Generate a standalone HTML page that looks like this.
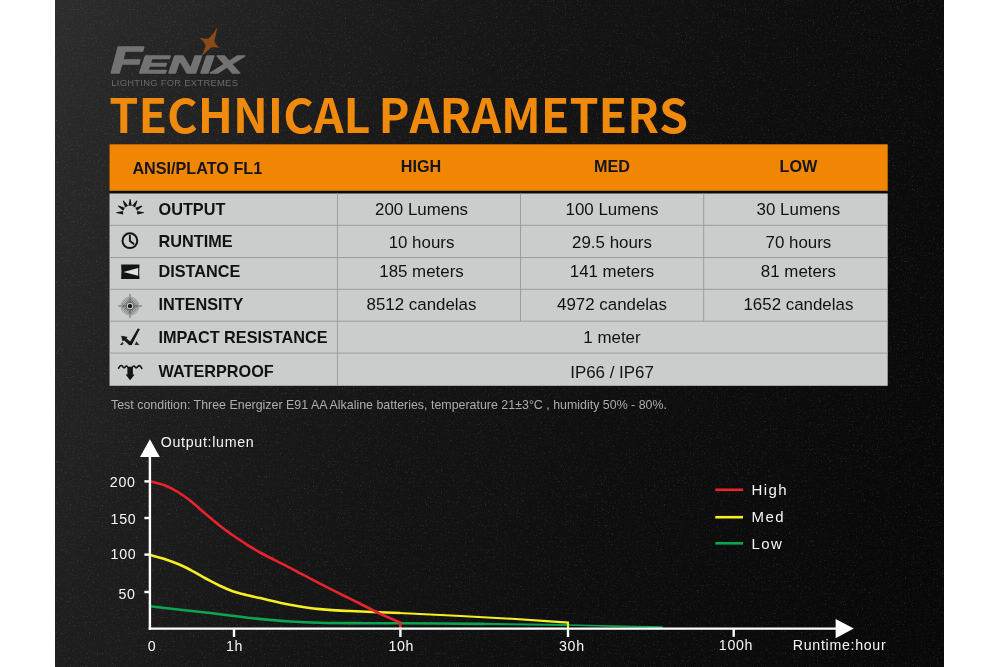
<!DOCTYPE html>
<html lang="en">
<head>
<meta charset="utf-8">
<title>Fenix Technical Parameters</title>
<style>
  html, body { margin: 0; padding: 0; background: #ffffff; }
  body { width: 1000px; height: 667px; overflow: hidden; position: relative; font-family: "Liberation Sans", sans-serif; }
  #stage { position: absolute; left: 0; top: 0; width: 1000px; height: 667px; display: block; will-change: transform; }
  .t { font-family: "Liberation Sans", sans-serif; }
  .b { font-weight: bold; }
  .title { font-family: "Noto Sans CJK SC", "Liberation Sans", sans-serif; font-weight: bold; font-kerning: none; }
</style>
</head>
<body>
<svg id="stage" width="1000" height="667" viewBox="0 0 1000 667">
  <defs>
    <linearGradient id="bg" gradientUnits="userSpaceOnUse" x1="55" y1="0" x2="1051.5" y2="398.6">
      <stop offset="0" stop-color="#2d2d2d"/>
      <stop offset="0.12" stop-color="#252525"/>
      <stop offset="0.23" stop-color="#1e1e1e"/>
      <stop offset="0.4" stop-color="#161616"/>
      <stop offset="0.6" stop-color="#101010"/>
      <stop offset="0.77" stop-color="#0c0c0c"/>
      <stop offset="1" stop-color="#080808"/>
    </linearGradient>
    <filter id="grain" x="0" y="0" width="100%" height="100%" color-interpolation-filters="sRGB">
      <feTurbulence type="fractalNoise" baseFrequency="0.75" numOctaves="2" seed="7" result="n"/>
      <feColorMatrix type="matrix" values="0 0 0 0 1  0 0 0 0 1  0 0 0 0 1  3.2 0 0 0 -1.9"/>
      <feGaussianBlur stdDeviation="0.4"/>
    </filter>
  </defs>

  <!-- background -->
  <rect x="0" y="0" width="1000" height="667" fill="#ffffff"/>
  <rect x="55" y="0" width="889" height="667" fill="url(#bg)"/>
  <rect x="55" y="0" width="889" height="667" filter="url(#grain)" opacity="0.15"/>

  <!-- LOGO -->
  <g id="logo">
    <text x="110.4" y="73.2" class="t b" font-size="37.4" font-style="italic" fill="#737373" stroke="#737373" stroke-width="1.3" stroke-linejoin="round" textLength="32" lengthAdjust="spacingAndGlyphs">F</text>
    <text x="139.2" y="73.2" class="t b" font-size="24.6" font-style="italic" fill="#737373" stroke="#737373" stroke-width="1.3" stroke-linejoin="round" textLength="103" lengthAdjust="spacingAndGlyphs">ENIX</text>
    <path d="M217.3 27.2 Q215.6 37 214.2 41.8 Q216.6 45.6 219.5 47.9 Q213.8 46.8 211.2 47.6 Q207 51.6 201.4 56.2 Q205 49 205.6 44.8 Q203 40.6 199.2 37.8 Q205 39.2 208.8 38.4 Q213.5 34 217.3 27.2 Z" fill="#8a4915"/>
    <text x="111.3" y="85.8" class="t" font-size="9.4" fill="#6a6a6a" textLength="126.6" lengthAdjust="spacing">LIGHTING FOR EXTREMES</text>
  </g>

  <!-- TITLE -->
  <text id="title" y="133" class="title" font-size="46.6" fill="#f08a0c"><tspan x="109.3" letter-spacing="0">TECHNICAL </tspan><tspan x="378.5" letter-spacing="0">PARAMETERS</tspan></text>

  <!-- TABLE -->
  <g id="table">
    <rect x="109.5" y="144.3" width="778.2" height="241.5" fill="#0c0c10"/>
    <rect x="109.5" y="144.3" width="778.2" height="46.5" fill="#f18605"/>
    <rect x="109.5" y="193.5" width="778.2" height="192.3" fill="#cbcdcc"/>
    <!-- grid lines -->
    <g stroke="#979797" stroke-width="0.9">
      <line x1="109.5" y1="225.3" x2="887.5" y2="225.3"/>
      <line x1="109.5" y1="257.5" x2="887.5" y2="257.5"/>
      <line x1="109.5" y1="289.3" x2="887.5" y2="289.3"/>
      <line x1="109.5" y1="321.2" x2="887.5" y2="321.2"/>
      <line x1="109.5" y1="353.1" x2="887.5" y2="353.1"/>
      <line x1="337.5" y1="193.2" x2="337.5" y2="385.5"/>
      <line x1="520.5" y1="193.2" x2="520.5" y2="321.2"/>
      <line x1="703.7" y1="193.2" x2="703.7" y2="321.2"/>
    </g>


    <!-- icons -->
    <g id="icons" fill="#141414" stroke="none">
      <!-- output: burst -->
      <g>
        <polygon points="116.3,212.2 116.3,213.1 123.1,214.4 123.1,211.0"/>
        <polygon points="118.4,205.4 117.9,206.2 123.2,210.7 124.9,207.7"/>
        <polygon points="123.6,200.5 122.8,201.0 125.1,207.5 128.1,205.8"/>
        <polygon points="130.5,198.9 129.7,198.9 128.4,205.7 131.8,205.7"/>
        <polygon points="137.4,201.0 136.6,200.5 132.1,205.8 135.1,207.5"/>
        <polygon points="142.3,206.2 141.8,205.4 135.3,207.7 137.0,210.7"/>
        <polygon points="143.9,213.1 143.9,212.2 137.1,211.0 137.1,214.4"/>
      </g>
      <!-- runtime: clock -->
      <circle cx="129.9" cy="240.7" r="7.4" fill="none" stroke="#141414" stroke-width="2"/>
      <path d="M129.9 235.6 V240.9 L133.6 243.8" fill="none" stroke="#141414" stroke-width="1.9" stroke-linecap="round" stroke-linejoin="round"/>
      <!-- distance: beam -->
      <path d="M121.1 264.4 H139.5 Q138.8 271.7 139.5 279 H121.1 Q121.8 271.7 121.1 264.4 Z"/>
      <polygon points="123.5,272 138.1,267.9 138.1,275.8" fill="#e2e2e2"/>
      <!-- intensity: target -->
      <g fill="none">
        <path d="M118.2 306.1 H126.6 M133.4 306.1 H141.9 M130 294.1 V302.7 M130 309.5 V317.9" stroke-width="1.5" stroke="#868686"/>
        <circle cx="130" cy="306.1" r="3.9" stroke="#4c4c4c" stroke-width="0.9"/>
        <circle cx="130" cy="306.1" r="5.2" stroke="#585858" stroke-width="0.9"/>
        <circle cx="130" cy="306.1" r="6.5" stroke="#676767" stroke-width="0.8"/>
        <circle cx="130" cy="306.1" r="7.8" stroke="#7a7a7a" stroke-width="0.8"/>
        <circle cx="130" cy="306.1" r="9.1" stroke="#929292" stroke-width="0.7"/>
      </g>
      <circle cx="130" cy="306.1" r="2.2"/>
      <!-- impact resistance -->
      <path d="M139.9 329 L131.8 345 L129.4 345.2 L124 340.2 L122.6 341.6 L121.2 335.8 L127.8 337 L126.2 338.2 L130.2 341.6 L137.8 328.6 Z"/>
      <path d="M119.8 344.9 L122.4 342 L123.6 343.4 L122.4 345 Z M134.6 344.9 L136.4 341.2 L137.6 342.8 L139.2 345 Z" fill="#2c2c2c"/>
      <!-- waterproof -->
      <path d="M118.6 368.2 C119.6 366 120.6 365.4 121.6 365.6 C122.8 365.8 123 367.8 124 367.8 C125 367.8 125.2 366 126.4 366 C127.4 366 127.6 367.4 128.4 367.6 L131.8 367.6 C132.6 367.4 132.8 366 133.8 366 C135 366 135.2 367.8 136.2 367.8 C137.2 367.8 137.8 365.8 139.2 365.6 C140.4 365.6 141 366.6 141.8 368.4" fill="none" stroke="#141414" stroke-width="1.6" stroke-linecap="round"/>
      <polygon points="127.4,367 132.9,367 132.9,374.4 134.7,374.4 130.1,380.3 125.6,374.4 127.4,374.4"/>
    </g>
    <!-- header -->
    <g class="t b" font-size="16.2" fill="#15151c">
      <text x="132.4" y="173.6">ANSI/PLATO FL1</text>
      <text x="421" y="172" text-anchor="middle">HIGH</text>
      <text x="612" y="172" text-anchor="middle">MED</text>
      <text x="798.4" y="172" text-anchor="middle">LOW</text>
    </g>

    <!-- row labels -->
    <g class="t b" font-size="16.25" fill="#111111">
      <text x="158.5" y="214.5">OUTPUT</text>
      <text x="158.5" y="246.7">RUNTIME</text>
      <text x="158.5" y="277.3">DISTANCE</text>
      <text x="158.5" y="310">INTENSITY</text>
      <text x="158.5" y="342.7">IMPACT RESISTANCE</text>
      <text x="158.5" y="377">WATERPROOF</text>
    </g>

    <!-- values -->
    <g class="t" font-size="16.9" fill="#111111" text-anchor="middle" transform="translate(0 -0.1)">
      <text x="421.5" y="215">200 Lumens</text>
      <text x="612" y="215">100 Lumens</text>
      <text x="798.4" y="215">30 Lumens</text>

      <text x="421.5" y="248.1">10 hours</text>
      <text x="612" y="248.1">29.5 hours</text>
      <text x="798.4" y="248.1">70 hours</text>

      <text x="421.5" y="276.8">185 meters</text>
      <text x="612" y="276.8">141 meters</text>
      <text x="798.4" y="276.8">81 meters</text>

      <text x="421.5" y="310.4">8512 candelas</text>
      <text x="612" y="310.4">4972 candelas</text>
      <text x="798.4" y="310.4">1652 candelas</text>

      <text x="612" y="342.7">1 meter</text>
      <text x="612" y="378.1">IP66 / IP67</text>
    </g>
  </g>

  <!-- test condition -->
  <text x="111" y="408.5" class="t" font-size="12.4" fill="#adadad" textLength="556" lengthAdjust="spacing">Test condition: Three Energizer E91 AA Alkaline batteries, temperature 21±3°C , humidity 50% - 80%.</text>

  <!-- CHART -->
  <g id="chart">
    <!-- curves -->
    <g fill="none" stroke-linecap="butt" stroke-linejoin="miter">
      <path id="low" d="M149.9 606.3 C158.1 607.2 181.8 609.8 199.0 611.8 C216.2 613.8 237.8 616.7 253.0 618.3 C268.2 619.9 278.8 620.8 290.0 621.5 C301.2 622.2 307.5 622.4 320.0 622.7 C332.5 623.0 351.7 623.1 365.0 623.2 C378.3 623.3 380.2 623.1 400.0 623.2 C419.8 623.3 470.0 623.8 484.0 623.9" stroke="#0ca651" stroke-width="2.6"/>
      <path d="M483 623.9 L568 625" stroke="#0ca651" stroke-width="2.1"/>
      <path d="M567 625 L624 626.3 L662 627.2" stroke="#0ca651" stroke-width="1.7" stroke-linecap="round"/>
      <path id="med" d="M149.9 554.8 C152.4 555.5 160.4 557.6 165.2 559.2 C170.0 560.8 174.2 562.3 178.7 564.3 C183.2 566.2 187.7 568.5 192.2 570.9 C196.7 573.3 201.2 576.1 205.7 578.5 C210.2 580.9 214.7 583.4 219.2 585.5 C223.7 587.6 228.2 589.6 232.7 591.2 C237.2 592.8 241.6 593.8 246.2 594.9 C250.8 596.0 252.7 596.5 260.0 598.1 C267.3 599.7 280.0 602.9 290.0 604.7 C300.0 606.5 310.0 608.1 320.0 609.1 C330.0 610.1 336.7 610.4 350.0 611.0 C363.3 611.6 391.7 612.7 400.0 613.0" stroke="#f4ee22" stroke-width="2.6"/>
      <path d="M399 612.95 L456 615.8 L512 618.8 L568 622.6 L568 629" stroke="#f4ee22" stroke-width="2.1"/>
      <path id="high" d="M149.9 481.2 C152.4 481.9 160.4 483.6 165.2 485.5 C170.0 487.4 174.2 489.7 178.7 492.5 C183.2 495.3 187.7 498.7 192.2 502.3 C196.7 505.9 201.2 510.3 205.7 514.1 C210.2 517.9 214.7 521.7 219.2 525.2 C223.7 528.7 228.2 532.1 232.7 535.3 C237.2 538.4 241.6 541.2 246.2 544.1 C250.8 547.0 252.7 548.5 260.0 552.5 C267.3 556.5 280.0 562.6 290.0 567.8 C300.0 573.0 310.0 578.5 320.0 583.6 C330.0 588.8 340.0 593.7 350.0 598.7 C360.0 603.7 375.0 611.2 380.0 613.7 L400.3 622.6 L400.3 629" stroke="#e8242c" stroke-width="2.6"/>
    </g>
    <!-- axes -->
    <g stroke="#ffffff" stroke-width="2.4" fill="none">
      <line x1="149.9" y1="456" x2="149.9" y2="629.8"/>
      <line x1="148.7" y1="628.6" x2="837" y2="628.6"/>
      <line x1="144.4" y1="481.4" x2="149.9" y2="481.4"/>
      <line x1="144.4" y1="518" x2="149.9" y2="518"/>
      <line x1="144.4" y1="554.6" x2="149.9" y2="554.6"/>
      <line x1="144.4" y1="592" x2="149.9" y2="592"/>
      <line x1="234" y1="628.6" x2="234" y2="637"/>
      <line x1="400.4" y1="629.6" x2="400.4" y2="637"/>
      <line x1="568" y1="629.6" x2="568" y2="637"/>
      <line x1="733.7" y1="628.6" x2="733.7" y2="636.8"/>
    </g>
    <polygon points="149.9,439.2 159.8,457 140,457" fill="#ffffff"/>
    <polygon points="853.8,628.6 835.6,619 835.6,638.2" fill="#ffffff"/>
    <!-- labels -->
    <g class="t" font-size="14.2" fill="#f6f6f6" letter-spacing="0.7">
      <text x="160.8" y="446.7">Output:lumen</text>
      <text x="109.8" y="486.8">200</text>
      <text x="110.6" y="523.5">150</text>
      <text x="110.6" y="559.2">100</text>
      <text x="118.4" y="598.5">50</text>
      <text x="147.8" y="651.2">0</text>
      <text x="226" y="650.9">1h</text>
      <text x="388.4" y="650.7">10h</text>
      <text x="559" y="650.7">30h</text>
      <text x="718.8" y="650.2">100h</text>
      <text x="792.8" y="650.2">Runtime:hour</text>
    </g>
    <!-- legend -->
    <g stroke-width="2.6" fill="none">
      <line x1="715.3" y1="489.8" x2="743" y2="489.8" stroke="#e8242c"/>
      <line x1="715.3" y1="517.2" x2="743" y2="517.2" stroke="#f4ee22"/>
      <line x1="715.3" y1="543.3" x2="743" y2="543.3" stroke="#0ca651"/>
    </g>
    <g class="t" font-size="15" fill="#f4f4f4" letter-spacing="1.4">
      <text x="751.5" y="495">High</text>
      <text x="751.5" y="522.4">Med</text>
      <text x="751.5" y="549">Low</text>
    </g>
  </g>
</svg>
</body>
</html>
